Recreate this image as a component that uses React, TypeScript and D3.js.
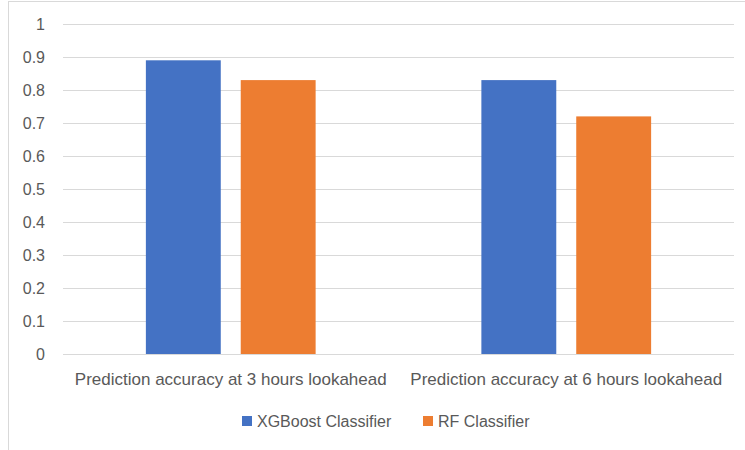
import React from "react";
import * as d3 from "d3";

const categories = [
  "Prediction accuracy at 3 hours lookahead",
  "Prediction accuracy at 6 hours lookahead",
];
const seriesNames = ["XGBoost Classifier", "RF Classifier"];
const xgboostValues = [0.89, 0.83];
const rfValues = [0.83, 0.72];
const yTicks = [0, 0.1, 0.2, 0.3, 0.4, 0.5, 0.6, 0.7, 0.8, 0.9, 1];
const colors = ["#4472C4", "#ED7D31"];

const W = 745;
const H = 450;
const left = 63;
const right = 734;
const top = 24;
const bottom = 354;
const font = "'Liberation Sans', Arial, sans-serif";
const textColor = "#595959";

export default function App() {
  const series = [xgboostValues, rfValues];
  const x = d3.scaleBand<string>().domain(categories).range([left, right]).padding(0);
  const xi = d3
    .scaleBand<string>()
    .domain(seriesNames)
    .range([0, x.bandwidth()])
    .paddingInner(20 / 95)
    .paddingOuter(83 / 95);
  const y = d3.scaleLinear().domain([0, 1]).range([bottom, top]);

  const legendItems = [
    { name: seriesNames[0], sx: 242, tx: 257 },
    { name: seriesNames[1], sx: 423, tx: 438 },
  ];

  return (
    <svg
      width={W}
      height={H}
      style={{ position: "absolute", left: 0, top: 0, background: "#fff" }}
    >
      <rect x={8.5} y={1.5} width={800} height={500} fill="#fff" stroke="#d9d9d9" strokeWidth={1} />
      {yTicks.map((t) => (
        <g key={t}>
          <line
            x1={left}
            x2={right}
            y1={Math.round(y(t)) + 0.5}
            y2={Math.round(y(t)) + 0.5}
            stroke="#d9d9d9"
            strokeWidth={1}
          />
          <text
            x={45}
            y={y(t) + 5.5}
            textAnchor="end"
            fontFamily={font}
            fontSize={16}
            fill={textColor}
          >
            {String(t)}
          </text>
        </g>
      ))}
      {categories.map((c, ci) => (
        <g key={c}>
          {seriesNames.map((s, si) => (
            <rect
              key={s}
              x={(x(c) ?? 0) + (xi(s) ?? 0)}
              y={y(series[si][ci])}
              width={xi.bandwidth()}
              height={bottom - y(series[si][ci])}
              fill={colors[si]}
            />
          ))}
          <text
            x={(x(c) ?? 0) + x.bandwidth() / 2}
            y={385}
            textAnchor="middle"
            fontFamily={font}
            fontSize={17}
            fill={textColor}
          >
            {c}
          </text>
        </g>
      ))}
      {legendItems.map((l, i) => (
        <g key={l.name}>
          <rect x={l.sx} y={416} width={10} height={10} fill={colors[i]} />
          <text x={l.tx} y={427} fontFamily={font} fontSize={16} fill={textColor}>
            {l.name}
          </text>
        </g>
      ))}
    </svg>
  );
}
